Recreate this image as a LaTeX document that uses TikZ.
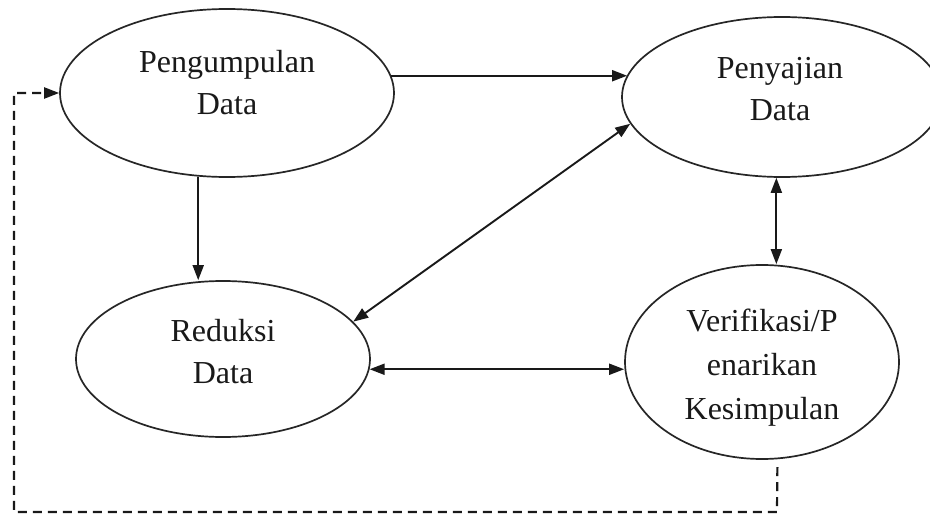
\documentclass[tikz,border=0pt]{standalone}
\usepackage{fontspec}
\setmainfont{Liberation Serif}
\usetikzlibrary{arrows.meta,shapes.geometric}
\begin{document}
\begin{tikzpicture}[x=1pt,y=-1pt,
  ell/.style={draw=black!85, line width=1.7pt, ellipse, inner sep=0pt},
  lbl/.style={align=center, inner sep=0pt, text=black!90,
    font=\fontsize{32}{42}\selectfont},
  conn/.style={draw=black!90, line width=1.9pt},
  tip/.style={-{Triangle[length=15pt,width=11pt]}},
  bitip/.style={{Triangle[length=15pt,width=11pt]}-{Triangle[length=15pt,width=11pt]}},
  dashline/.style={draw=black!90, line width=2.2pt, dash pattern=on 9pt off 6pt}]
\clip (0,0) rectangle (930,514);
\fill[white] (0,0) rectangle (930,514);
% ellipses
\node[ell, minimum width=334pt, minimum height=168pt] (pd) at (227,93) {};
\node[ell, minimum width=320pt, minimum height=160pt] (ps) at (782,97) {};
\node[ell, minimum width=294pt, minimum height=156pt] (rd) at (223,359) {};
\node[ell, minimum width=274pt, minimum height=194pt] (vk) at (762,362) {};
% labels
\node[lbl] (tpd) at (227,83) {Pengumpulan\\Data};
\node[lbl] (tps) at (780,89) {Penyajian\\Data};
\node[lbl] (trd) at (223,352) {Reduksi\\Data};
\node[lbl, font=\fontsize{32}{44}\selectfont] (tvk) at (762,367.5) {Verifikasi/P\\enarikan\\Kesimpulan};
% connectors
\draw[conn,tip] (pd.6) -- (ps.172 |- pd.6);
\draw[conn,tip] (pd.251) -- (pd.251 |- rd.north);
\draw[conn,bitip] (ps.190) -- (rd.16);
\draw[conn,bitip] (ps.266) -- (ps.266 |- vk.north);
\draw[conn,bitip] (rd.356) -- (rd.356 -| vk.west);
% feedback dashed line
\coordinate (c1) at (777,512);
\coordinate (c2) at (14,512);
\coordinate (c3) at (14,93);
\draw[dashline,tip] (vk.279) ++(0,8) -- (c1) -- (c2) -- (c3) -- (pd.west);
\end{tikzpicture}
\end{document}
